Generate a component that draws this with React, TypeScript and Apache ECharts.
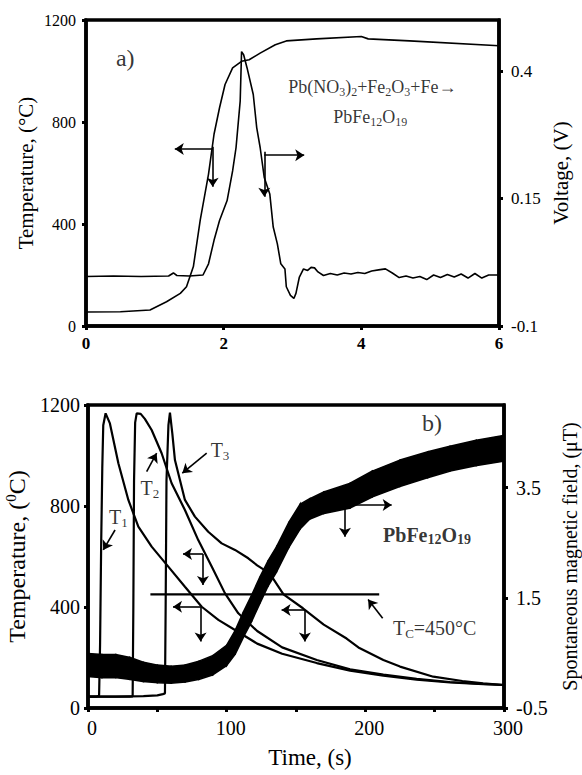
import React, { useEffect, useRef } from "react";
import * as echarts from "echarts";

const FONT = '"Liberation Serif", "Times New Roman", "DejaVu Serif", serif';

// ---------- Panel a) ----------
const aTime = [0, 0.5, 0.93, 1.17, 1.37, 1.46, 1.56, 1.66, 1.78, 1.86, 1.94, 2.02, 2.13, 2.26, 2.37, 2.53, 2.75, 2.91, 3.35, 4.0, 4.1, 4.7, 6.0];
const aTemp = [55, 56, 63, 95, 128, 154, 233, 416, 596, 752, 856, 947, 1012, 1038, 1044, 1070, 1103, 1118, 1126, 1135, 1126, 1118, 1099];

const vTime = [0, 0.4, 0.8, 1.2, 1.27, 1.32, 1.5, 1.7, 1.78, 1.86, 1.94, 2.05, 2.13, 2.18, 2.24, 2.26, 2.29, 2.34, 2.43, 2.48, 2.53, 2.59, 2.67, 2.72, 2.78, 2.83, 2.89, 2.91, 2.97, 3.02, 3.05, 3.1, 3.16, 3.22, 3.27, 3.32, 3.37, 3.45, 3.55, 3.65, 3.75, 3.85, 3.95, 4.05, 4.15, 4.25, 4.35, 4.45, 4.55, 4.65, 4.75, 4.85, 4.95, 5.05, 5.15, 5.25, 5.35, 5.45, 5.55, 5.65, 5.75, 5.85, 6.0];
const vVolt = [-0.003, -0.002, -0.003, -0.002, 0.004, -0.001, -0.002, 0.0, 0.022, 0.068, 0.107, 0.146, 0.204, 0.25, 0.341, 0.438, 0.432, 0.406, 0.354, 0.289, 0.25, 0.191, 0.159, 0.094, 0.061, 0.022, 0.012, -0.023, -0.04, -0.046, -0.036, -0.004, 0.012, 0.009, 0.015, 0.014, 0.006, -0.001, 0.003, 0.0, 0.004, 0.002, 0.005, 0.003, 0.008, 0.01, 0.012, 0.004, -0.005, -0.002, -0.006, -0.003, -0.009, 0.0, -0.005, 0.001, -0.004, 0.002, -0.006, 0.003, -0.006, 0.0, 0.0];

const voltTicks = [-0.1, 0.15, 0.4];

// ---------- Panel b) ----------
const t1Time = [0, 6.2, 8.0, 8.7, 9.5, 10.3, 11.0, 12.7, 15.8, 21.9, 29.1, 36.3, 45.9, 57.9, 69.9, 82, 94, 106, 122, 140, 165, 189, 213, 237, 261, 285, 300];
const t1Temp = [45, 45, 50, 250, 650, 950, 1120, 1167, 1127, 969, 824, 718, 639, 560, 480, 401, 349, 309, 255, 215, 178, 148, 128, 112, 101, 94, 91];

const t2Time = [0, 30, 32.2, 32.7, 33.2, 34.0, 35.1, 38, 41, 45.9, 53.1, 60.3, 69.9, 79.5, 89.2, 98.8, 108.4, 122, 140, 165, 189, 213, 237, 261, 285, 300];
const t2Temp = [45, 45, 46, 400, 900, 1130, 1167, 1165, 1145, 1101, 1009, 890, 784, 665, 560, 454, 375, 305, 240, 190, 153, 132, 115, 103, 95, 91];

const t3Time = [0, 20, 40, 50, 54, 55.5, 56.0, 56.6, 58, 59.1, 60.8, 62.7, 66.3, 69.9, 77.1, 86.7, 96.4, 106, 115.6, 122, 131, 141, 155, 170, 186.5, 195, 213, 225, 249, 270, 285, 300];
const t3Temp = [45, 45, 47, 50, 55, 58, 400, 900, 1120, 1170, 1088, 982, 903, 824, 758, 698, 652, 626, 593, 565, 533, 450, 395, 330, 275, 240, 190, 164, 124, 107, 98, 91];

const magTime = [0, 10, 20, 30, 40, 50, 60, 70, 80, 90, 100, 106, 112, 118, 124, 130, 136, 145, 153, 160, 170, 189, 205, 225, 245, 261, 280, 300];
const magLow = [0.07, 0.05, 0.05, 0.02, -0.02, -0.04, -0.05, -0.03, 0.02, 0.1, 0.27, 0.47, 0.78, 1.07, 1.4, 1.72, 1.97, 2.42, 2.75, 2.93, 3.03, 3.13, 3.33, 3.52, 3.68, 3.8, 3.9, 3.98];
const magHigh = [0.49, 0.47, 0.47, 0.42, 0.33, 0.28, 0.26, 0.28, 0.35, 0.45, 0.64, 0.9, 1.24, 1.55, 1.88, 2.18, 2.43, 2.88, 3.2, 3.3, 3.42, 3.58, 3.8, 4.0, 4.15, 4.25, 4.36, 4.45];

const tcTime = [45, 210];
const tcTemp = [450, 450];

const fieldTicks = [-0.5, 1.5, 3.5];

// ---------- Annotations (data coordinates) ----------
const aArrows: number[][][] = [
  [[1.84, 694], [1.29, 694]],
  [[1.84, 703], [1.84, 546]],
  [[2.59, 683], [2.59, 507]],
  [[2.59, 670], [3.17, 670]],
];
const aNotes = [
  { at: [0.57, 1051], text: "{big|a)}" },
  { at: [4.16, 938], text: "{n|Pb(NO}{s|3}{n|)}{s|2}{n|+Fe}{s|2}{n|O}{s|3}{n|+Fe→}" },
  { at: [4.13, 821], text: "{n|PbFe}{s|12}{n|O}{s|19}" },
];

const bArrows: number[][][] = [
  [[19.5, 705], [11, 626]],
  [[42.3, 936], [49.5, 1009]],
  [[85.6, 1009], [68, 930]],
  [[82.9, 610], [68.5, 610]],
  [[82.9, 610], [82.9, 487]],
  [[81.2, 401], [61.3, 401]],
  [[81.2, 401], [81.2, 263]],
  [[156.4, 388], [139.6, 388]],
  [[156.4, 388], [156.4, 263]],
  [[185.3, 804], [219, 804]],
  [[185.3, 804], [185.3, 678]],
  [[212.5, 355], [202, 430]],
];
const bNotes = [
  { at: [21.9, 758], text: "{n|T}{s|1}" },
  { at: [44.7, 870], text: "{n|T}{s|2}" },
  { at: [95.2, 1022], text: "{n|T}{s|3}" },
  { at: [248, 1129], text: "{big|b)}" },
  { at: [244.5, 685], text: "{b|PbFe}{bs|12}{b|O}{bs|19}" },
  { at: [250, 317], text: "{n|T}{s|C}{n|=450°C}" },
];

const zip = (xs: number[], ys: number[]) => xs.slice(0, Math.min(xs.length, ys.length)).map((x, i) => [x, ys[i]]);

const txt = (size: number, extra: any = {}) => ({ fontFamily: FONT, color: "#000", fontSize: size, ...extra });
const ink = (size: number, extra: any = {}) => txt(size, { textBorderWidth: 0, textShadowBlur: 0, ...extra });

export default function App() {
  const ref = useRef<HTMLDivElement>(null);

  useEffect(() => {
    if (!ref.current) return;
    const chart = echarts.init(ref.current, undefined, { renderer: "svg" });

    const axisLine = { show: true, onZero: false, lineStyle: { color: "#000", width: 3.5 } };
    const tick = { show: true, length: 4, lineStyle: { color: "#000", width: 3 } };
    const plain = (v: number) => String(v);

    const richA = {
      n: ink(18, { lineHeight: 22 }),
      s: ink(12, { lineHeight: 12, verticalAlign: "bottom" }),
      big: ink(24, { lineHeight: 28 }),
    };
    const richB = {
      n: ink(20, { lineHeight: 24 }),
      s: ink(13, { lineHeight: 13, verticalAlign: "bottom" }),
      big: ink(24, { lineHeight: 28 }),
      b: ink(20, { lineHeight: 22, fontWeight: "bold" }),
      bs: ink(14, { lineHeight: 16, verticalAlign: "bottom", fontWeight: "bold" }),
    };

    const markArrows = (arrows: number[][][]) => ({
      silent: true,
      symbol: ["none", "arrow"],
      symbolSize: 9,
      label: { show: false },
      emphasis: { disabled: true },
      lineStyle: { color: "#000", width: 1.6, type: "solid" },
      data: arrows.map(([s, e]) => [{ coord: s }, { coord: e }]),
    });

    const curve = (xi: number, yi: number, data: number[][], width: number, z = 2) => ({
      type: "line",
      xAxisIndex: xi,
      yAxisIndex: yi,
      data,
      symbol: "none",
      silent: true,
      z,
      lineStyle: { color: "#000", width },
    });

    const notes = (xi: number, yi: number, list: { at: number[]; text: string }[], rich: any, size: number) => ({
      type: "scatter",
      xAxisIndex: xi,
      yAxisIndex: yi,
      symbol: "circle",
      symbolSize: 1,
      silent: true,
      z: 6,
      itemStyle: { color: "rgba(0,0,0,0)" },
      labelLayout: { hideOverlap: false },
      label: { show: true, position: "inside", ...ink(size), lineHeight: 24, rich },
      data: list.map((n) => ({ value: n.at, label: { show: true, formatter: n.text } })),
    });

    const option: any = {
      animation: false,
      backgroundColor: "#fff",
      textStyle: { fontFamily: FONT, color: "#000" },
      grid: [
        { left: 86, top: 20, width: 413, height: 306, show: true, borderColor: "#000", borderWidth: 3.5, containLabel: false, outerBoundsMode: "none" },
        { left: 88, top: 405, width: 416, height: 303, show: true, borderColor: "#000", borderWidth: 3.5, containLabel: false, outerBoundsMode: "none" },
      ],
      xAxis: [
        {
          type: "value", gridIndex: 0, min: 0, max: 6, interval: 2,
          axisLine, axisTick: tick, splitLine: { show: false },
          axisLabel: txt(17, { fontWeight: "bold", margin: 9, formatter: plain }),
        },
        {
          type: "value", gridIndex: 1, min: 0, max: 300, interval: 50,
          axisLine, axisTick: tick, splitLine: { show: false },
          axisLabel: txt(20, { margin: 10, padding: [0, 0, 0, 8], formatter: (v: number) => (v % 100 === 0 ? String(v) : "") }),
          name: "Time, (s)", nameLocation: "middle", nameGap: 38, nameMoveOverlap: false,
          nameTextStyle: txt(23, { padding: [0, 0, 0, 28] }),
        },
      ],
      yAxis: [
        {
          type: "value", gridIndex: 0, position: "left", min: 0, max: 1200, interval: 400,
          axisLine, axisTick: tick, splitLine: { show: false },
          axisLabel: txt(16, { margin: 10, formatter: plain }),
          name: "Temperature, (°C)", nameLocation: "middle", nameGap: 50, nameMoveOverlap: false,
          nameTextStyle: txt(21),
        },
        {
          type: "value", gridIndex: 0, position: "right", min: -0.1, max: 0.5,
          axisLine, splitLine: { show: false },
          axisTick: { ...tick, customValues: voltTicks },
          axisLabel: txt(17, { margin: 12, customValues: voltTicks, formatter: plain }),
          name: "Voltage, (V)", nameLocation: "middle", nameGap: 51, nameMoveOverlap: false,
          nameTextStyle: txt(21),
        },
        {
          type: "value", gridIndex: 1, position: "left", min: 0, max: 1200, interval: 400,
          axisLine, axisTick: tick, splitLine: { show: false },
          axisLabel: txt(20, { margin: 8, formatter: plain }),
          name: "Temperature, ({sup|0}C)", nameLocation: "middle", nameGap: 57, nameMoveOverlap: false,
          nameTextStyle: txt(24, {
            lineHeight: 28,
            rich: { sup: txt(15, { lineHeight: 14, verticalAlign: "top" }) },
          }),
        },
        {
          type: "value", gridIndex: 1, position: "right", min: -0.5, max: 5,
          axisLine, splitLine: { show: false },
          axisTick: { ...tick, customValues: fieldTicks },
          axisLabel: txt(20, { margin: 12, customValues: fieldTicks, formatter: plain }),
          name: "Spontaneous magnetic field, (μT)", nameLocation: "middle", nameGap: 55, nameMoveOverlap: false,
          nameTextStyle: txt(20, { lineHeight: 22 }),
        },
      ],
      series: [
        // Panel a
        curve(0, 0, zip(aTime, aTemp), 1.6),
        curve(0, 1, zip(vTime, vVolt), 1.6),
        { ...notes(0, 0, aNotes, richA, 18), markLine: markArrows(aArrows) },
        // Panel b
        curve(1, 2, zip(t1Time, t1Temp), 2.2),
        curve(1, 2, zip(t2Time, t2Temp), 2.2),
        curve(1, 2, zip(t3Time, t3Temp), 2.2),
        curve(1, 2, zip(tcTime, tcTemp), 2.4),
        {
          type: "custom",
          xAxisIndex: 1,
          yAxisIndex: 3,
          silent: true,
          z: 3,
          encode: { x: 0, y: [1, 2] },
          data: magTime.map((t, i) => [t, magLow[i], magHigh[i]]),
          renderItem: (params: any, api: any) => {
            const i = params.dataIndex;
            if (i === 0) return null;
            const t0 = magTime[i - 1];
            const p1 = api.coord([t0, magHigh[i - 1]]);
            const p2 = api.coord([api.value(0), api.value(2)]);
            const p3 = api.coord([api.value(0), api.value(1)]);
            const p4 = api.coord([t0, magLow[i - 1]]);
            return {
              type: "polygon",
              shape: { points: [p1, p2, p3, p4] },
              style: { fill: "#000", stroke: "#000", lineWidth: 1.5 },
            };
          },
        },
        { ...notes(1, 2, bNotes, richB, 20), markLine: markArrows(bArrows) },
      ],
    };

    chart.setOption(option);
    return () => chart.dispose();
  }, []);

  return (
    <div
      ref={ref}
      style={{ position: "absolute", left: 0, top: 0, width: 582, height: 775, background: "#fff" }}
    />
  );
}
